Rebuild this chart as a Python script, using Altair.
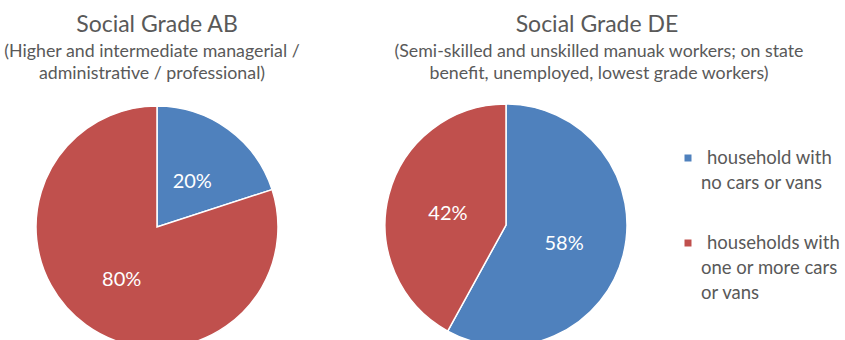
import altair as alt
import pandas as pd

# ---- data ----
grades = ["AB", "DE"]
categories = ["household with no cars or vans", "households with one or more cars or vans"]
ab_values = [20, 80]
de_values = [58, 42]
colors = ["#4F81BD", "#C0504D"]
titles = ["Social Grade AB", "Social Grade DE"]
subtitles = [
    ["(Higher and intermediate managerial /", "administrative / professional)"],
    ["(Semi-skilled and unskilled manuak workers; on state",
     "benefit, unemployed, lowest grade workers)"],
]
legend_lines = [["household with", "no cars or vans"],
                ["households with", "one or more cars", "or vans"]]

rows = []
for g, vals in zip(grades, [ab_values, de_values]):
    for i, (c, v) in enumerate(zip(categories, vals)):
        rows.append({"grade": g, "category": c, "value": v, "order": i,
                     "label": f"{v}%"})
pie_df = pd.DataFrame(rows)

FONT = "Lato"
GREY = "#595959"
color_scale = alt.Scale(domain=categories, range=colors)

centers = {"AB": (157, 227), "DE": (506, 225)}
title_x = {"AB": 157, "DE": 597}
sub_x = {"AB": 152, "DE": 599}
R = 121

layers = []
for g in grades:
    cx, cy = centers[g]
    base = alt.Chart(pie_df).transform_filter(alt.datum.grade == g)
    arc = base.mark_arc(outerRadius=R, stroke="white", strokeWidth=1.5).encode(
        theta=alt.Theta("value:Q", stack=True),
        order=alt.Order("order:Q"),
        color=alt.Color("category:N", scale=color_scale, legend=None),
        x=alt.value(cx), y=alt.value(cy),
    )
    lab = base.mark_text(radius=60, font=FONT, fontSize=20, color="white",
                         align="center", baseline="middle", dy=4).encode(
        theta=alt.Theta("value:Q", stack=True),
        order=alt.Order("order:Q"),
        text="label:N",
        x=alt.value(cx), y=alt.value(cy),
    )
    layers += [arc, lab]

def text_layer(s, x, y, size, align="center", color=GREY):
    return alt.Chart(pd.DataFrame({"t": [s]})).mark_text(
        font=FONT, fontSize=size, color=color, align=align, baseline="alphabetic"
    ).encode(text="t:N", x=alt.value(x), y=alt.value(y))

for gi, g in enumerate(grades):
    layers.append(text_layer(titles[gi], title_x[g], 32, 23))
    for li, line in enumerate(subtitles[gi]):
        layers.append(text_layer(line, sub_x[g], 57 + 22 * li, 17.8))

# legend
leg_df = pd.DataFrame({"category": categories})
leg_y = [158, 243]
for ci, c in enumerate(categories):
    sq = alt.Chart(leg_df).transform_filter(alt.datum.category == c).mark_square(
        size=49, opacity=1).encode(
        x=alt.value(688), y=alt.value(leg_y[ci]),
        color=alt.Color("category:N", scale=color_scale, legend=None),
    )
    layers.append(sq)
    for li, line in enumerate(legend_lines[ci]):
        x = 707 if li == 0 else 701
        layers.append(text_layer(line, x, leg_y[ci] + 6 + 25 * li, 18.5, align="left"))

chart = alt.layer(*layers).properties(
    width=845, height=340, padding=0, autosize=alt.AutoSizeParams(type="none"),
    background="white",
).configure_view(stroke=None)

chart.save("out.html", embed_options={"renderer": "svg", "actions": False})
